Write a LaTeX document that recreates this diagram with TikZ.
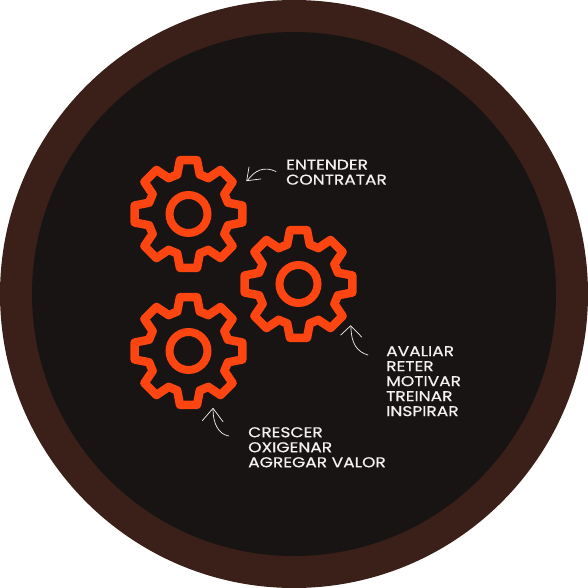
\documentclass[tikz,border=0pt]{standalone}
\usepackage{fontspec}
\setmainfont[FakeStretch=1.2,FakeBold=0.6]{Poppins}
\usetikzlibrary{calc}
\definecolor{ringcol}{HTML}{3A2019}
\definecolor{discol}{HTML}{171413}
\definecolor{gearcol}{HTML}{FC4510}
\definecolor{lab}{HTML}{F4F2F0}
\tikzset{
  ring/.style={fill=ringcol, draw=none},
  disc/.style={fill=discol, draw=none},
  gearline/.style={draw=gearcol, line width=8.5pt, line join=round},
  hubline/.style={draw=gearcol, line width=8pt},
  sketch/.style={draw=lab, line width=0.7pt, line cap=round, line join=round},
  labtext/.style={text=lab, align=left, anchor=north west, inner sep=0pt, font=\fontsize{14.2}{15}\selectfont}
}
% one gear: eight teeth round the given point
\newcommand{\gearat}[1]{%
  \draw[gearline] ($(#1)+(9:54.5)$)
    \foreach \a in {0,45,...,315} {
      -- ($(#1)+(\a+9:54.5)$) -- ($(#1)+(\a+16:41)$) -- ($(#1)+(\a+29:41)$) -- ($(#1)+(\a+36:54.5)$)
    } -- cycle;
  \draw[hubline] (#1) circle (19);
}
\begin{document}
\begin{tikzpicture}[x=1pt, y=-1pt]
  \useasboundingbox (0,0) rectangle (588,588);
  \fill[ring] (294,294) circle (294);
  \fill[disc] (294,294) circle (262);

  \coordinate (G1) at (188.5,214);
  \coordinate (G2) at (298.5,284);
  \coordinate (G3) at (188.5,351);
  \gearat{G1}
  \gearat{G2}
  \gearat{G3}

  \node[labtext] (top) at (286,159.5) {ENTENDER\\CONTRATAR};
  \node[labtext] (right) at (386,346) {AVALIAR\\RETER\\MOTIVAR\\TREINAR\\INSPIRAR};
  \node[labtext] (bottom) at (248,427) {CRESCER\\OXIGENAR\\AGREGAR VALOR};

  % hand drawn arrows
  \draw[sketch] (276,171.5) .. controls (264,166) and (255,170) .. (247,181);
  \draw[sketch] (249,167) -- (246.7,180.7) -- (260.7,179);
  \draw[sketch] (368,355) .. controls (357,352) and (351,343) .. (351,327);
  \draw[sketch] (340.7,335) -- (350.7,325.7) -- (361.7,337);
  \draw[sketch] (228.7,436) .. controls (218,434) and (213,423) .. (213,409);
  \draw[sketch] (202.3,420.7) -- (213,408.3) -- (223,421.7);
\end{tikzpicture}
\end{document}
